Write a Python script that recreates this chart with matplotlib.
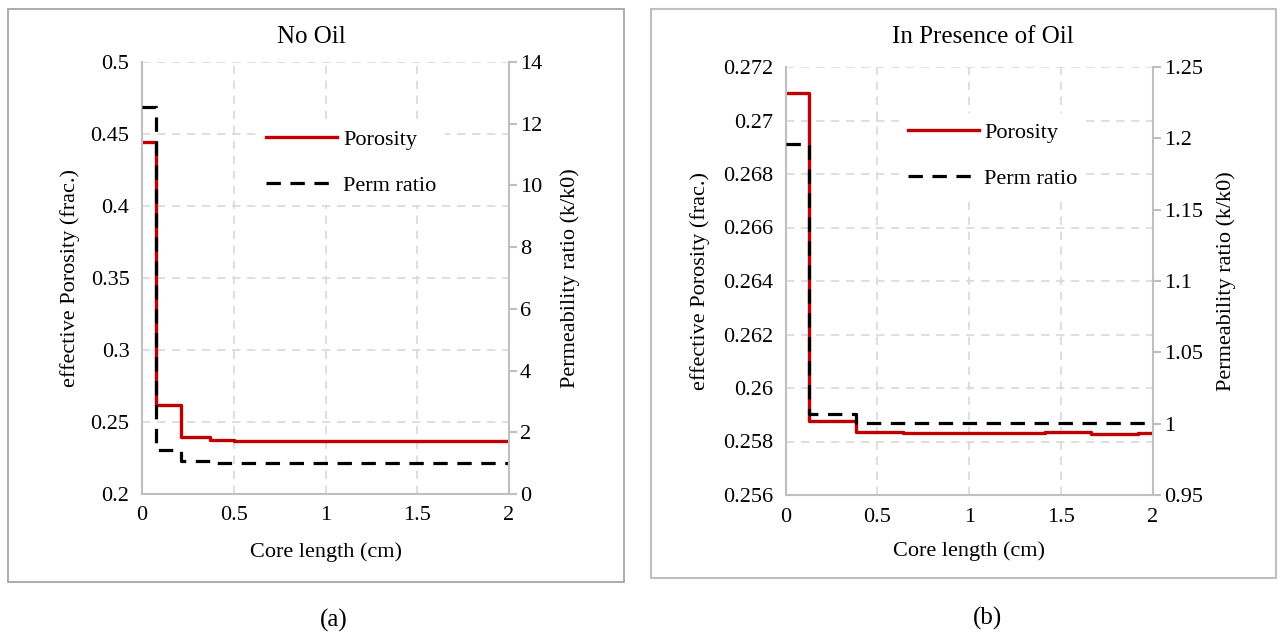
import numpy as np
import matplotlib.pyplot as plt
from matplotlib.patches import Rectangle
from matplotlib.ticker import FuncFormatter, MultipleLocator

plt.rcParams['font.family'] = ['Liberation Serif', 'DejaVu Serif']
plt.rcParams['font.size'] = 16

# (a) No Oil
xa_phi = [0, 0.075, 0.215, 0.37, 0.5, 0.66, 1.09, 1.23, 1.51, 1.67, 2.0]
phi_a = [0.4445, 0.2618, 0.2398, 0.2373, 0.2370, 0.2369, 0.2370, 0.2369, 0.2370, 0.2369, 0.2369]
xa_k = [0, 0.075, 0.215, 0.37, 0.5, 2.0]
k_a = [12.54, 1.43, 1.07, 1.02, 1.0, 1.0]

# (b) In Presence of Oil
xb_phi = [0, 0.13, 0.383, 0.64, 1.41, 1.664, 1.916, 2.0]
phi_b = [0.27103, 0.25878, 0.25835, 0.25831, 0.25834, 0.25828, 0.25833, 0.25833]
xb_k = [0, 0.13, 0.383, 2.0]
k_b = [1.1958, 1.007, 1.0003, 1.0003]

W, H = 1282, 636
red = '#c00000'
gridc = '#d9d9d9'
axc = '#bfbfbf'
fmt = FuncFormatter(lambda v, p: f"{round(v, 4):g}")

fig = plt.figure(figsize=(W / 100, H / 100), dpi=100)


def px(x0, x1, ytop, ybot):
    return [x0 / W, 1 - ybot / H, (x1 - x0) / W, (ybot - ytop) / H]


def panel(rect, xp, yp, xk, yk, ylim, ystep, klim, kstep, leg_anchor, lab_x):
    ax = fig.add_axes(rect)
    ax.step(xp, yp, where='post', color=red, lw=2.4, label='Porosity')
    ax.plot([], [], color='black', lw=2.3, ls=(0, (4.5, 3)), label='Perm ratio')
    ax.set_xlim(0, 2)
    ax.set_ylim(*ylim)
    ax.xaxis.set_major_locator(MultipleLocator(0.5))
    ax.yaxis.set_major_locator(MultipleLocator(ystep))
    ax.xaxis.set_major_formatter(fmt)
    ax.yaxis.set_major_formatter(fmt)
    ax.grid(True, color=gridc, ls=(0, (5, 4)), lw=1.2)
    ax.set_axisbelow(True)
    for s in ['top', 'right']:
        ax.spines[s].set_visible(False)
    for s in ['left', 'bottom']:
        ax.spines[s].set_color(axc)
        ax.spines[s].set_linewidth(1.5)
    ax.tick_params(length=0, pad=9)
    ax.set_xlabel('Core length (cm)', va='center')
    ax.xaxis.set_label_coords(0.5, lab_x[2])
    ax.set_ylabel('effective Porosity (frac.)', va='center')
    ax.yaxis.set_label_coords(lab_x[0], 0.5)

    ax2 = ax.twinx()
    ax2.step(xk, yk, where='post', color='black', lw=2.3, ls=(0, (4.5, 3)))
    ax2.set_ylim(*klim)
    ax2.yaxis.set_major_locator(MultipleLocator(kstep))
    ax2.yaxis.set_major_formatter(fmt)
    for s in ['top', 'left', 'bottom']:
        ax2.spines[s].set_visible(False)
    ax2.spines['right'].set_color(axc)
    ax2.spines['right'].set_linewidth(1.5)
    ax2.tick_params(axis='y', length=6, width=1.5, color=axc, pad=2)
    ax2.set_ylabel('Permeability ratio (k/k0)', va='center')
    ax2.yaxis.set_label_coords(lab_x[1], 0.5)

    leg = ax.legend(loc='upper left', bbox_to_anchor=leg_anchor, frameon=True,
                    framealpha=1, edgecolor='none', facecolor='white',
                    handlelength=3.2, labelspacing=1.15, handletextpad=0.25,
                    borderpad=0.4, fancybox=False, fontsize=16)
    leg.set_zorder(5)
    return ax, ax2


panel(px(142, 509, 62, 494), xa_phi, phi_a, xa_k, k_a, (0.2, 0.5), 0.05,
      (0, 14), 2, (0.284, 0.891), (-0.196, 1.166, -0.134))
panel(px(785.5, 1153, 67, 495), xb_phi, phi_b, xb_k, k_b, (0.256, 0.272), 0.002,
      (0.95, 1.25), 0.05, (0.278, 0.918), (-0.233, 1.199, -0.131))

fig.text(311 / W, 1 - 43 / H, 'No Oil', ha='center', va='baseline', fontsize=18)
fig.text(983 / W, 1 - 43 / H, 'In Presence of Oil', ha='center', va='baseline', fontsize=18)
fig.text(334 / W, 1 - 620 / H, '(a)', ha='center', va='center', fontsize=18)
fig.text(987 / W, 1 - 618 / H, '(b)', ha='center', va='center', fontsize=18)

fig.patches.append(Rectangle((8 / W, 1 - 582 / H), 616 / W, 573 / H, transform=fig.transFigure,
                             fill=False, edgecolor='#a6a6a6', lw=1.3))
fig.patches.append(Rectangle((651 / W, 1 - 578 / H), 625 / W, 569 / H, transform=fig.transFigure,
                             fill=False, edgecolor='#bfbfbf', lw=1.5))

fig.savefig('out.png', dpi=100)
